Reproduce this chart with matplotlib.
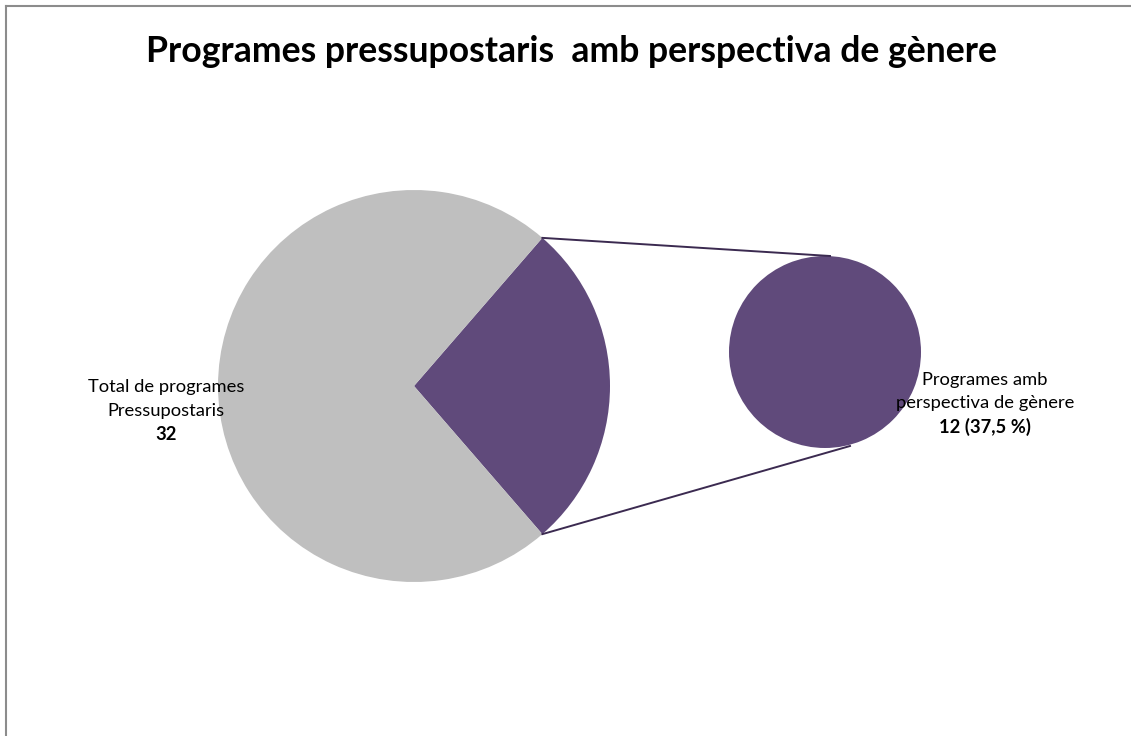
import matplotlib
matplotlib.use("Agg")
from matplotlib import pyplot as plt
import numpy as np

# data
labels = ["Programes amb perspectiva de gènere", "Total de programes Pressupostaris"]
values = [12, 32]
colors = ["#604a7b", "#bfbfbf"]
title = "Programes pressupostaris  amb perspectiva de gènere"

plt.rcParams['font.family'] = ['Lato', 'DejaVu Sans']

fig = plt.figure(figsize=(11.31, 7.36), dpi=100)
ax = fig.add_axes([0, 0, 1, 1])

# main pie, the small slice centred on the right
share = values[0] / sum(values) * 360
ax.pie(values, colors=colors, startangle=-share / 2, center=(414, 386),
       radius=196, wedgeprops=dict(linewidth=0), frame=True)

# secondary pie (only the gender slice)
ax.pie([values[0]], colors=[colors[0]], center=(825, 352), radius=96,
       wedgeprops=dict(linewidth=0), frame=True)

# connector lines
a = np.deg2rad(share / 2)
p_top = (414 + 196 * np.cos(a), 386 - 196 * np.sin(a))
p_bot = (414 + 196 * np.cos(a), 386 + 196 * np.sin(a))
ax.plot([p_top[0], 830], [p_top[1], 256], color="#3b2a50", lw=1.4)
ax.plot([p_bot[0], 850], [p_bot[1], 446], color="#3b2a50", lw=1.4)

ax.set_xlim(0, 1131)
ax.set_ylim(736, 0)
ax.set_aspect("auto")
ax.axis("off")

# labels
fs = 13.2
ax.text(166, 387, "Total de programes", ha="center", va="center", fontsize=fs)
ax.text(166, 411, "Pressupostaris", ha="center", va="center", fontsize=fs)
ax.text(166, 435, str(values[1]), ha="center", va="center", fontsize=fs, fontweight="bold")

ax.text(985, 380, "Programes amb", ha="center", va="center", fontsize=fs)
ax.text(985, 403, "perspectiva de gènere", ha="center", va="center", fontsize=fs)
pct = values[0] / values[1] * 100
ax.text(985, 427, f"{values[0]} ({pct:.1f} %)".replace(".", ","), ha="center",
        va="center", fontsize=fs, fontweight="bold")

ax.text(572, 51, title, ha="center", va="center", fontsize=25.7, fontweight="bold")

# border (top and left)
ax.plot([6, 1131], [6, 6], color="#8c8c8c", lw=1.5, clip_on=False)
ax.plot([6, 6], [6, 736], color="#8c8c8c", lw=1.5, clip_on=False)

fig.savefig("out.png", dpi=100)
